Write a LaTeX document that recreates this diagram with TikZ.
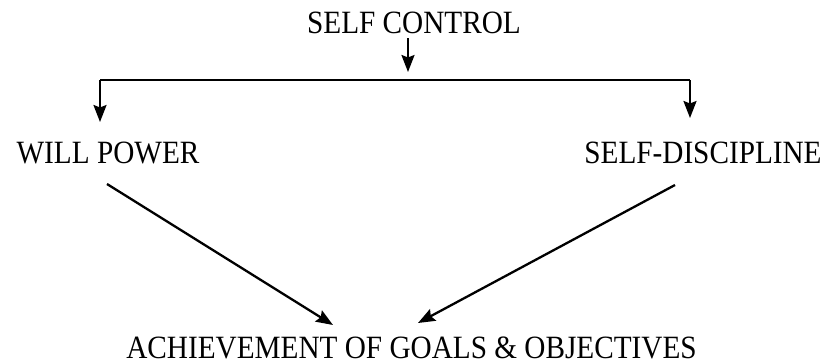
\documentclass[tikz,border=0pt]{standalone}
\usepackage{fontspec}
\setmainfont[FakeStretch=0.9]{Liberation Serif}
\usetikzlibrary{arrows.meta}
\begin{document}
\begin{tikzpicture}[x=1pt,y=-1pt,
  label/.style={inner sep=0pt,anchor=base,font=\fontsize{32.5}{32.5}\selectfont},
  conn/.style={line width=2.3pt,-{Stealth[length=17pt,width=13pt,inset=2.5pt]}},
  plain/.style={line width=2.3pt}]
\useasboundingbox[fill=white] (0,0) rectangle (823,364);

% labels
\node[label] (sc)  at (414,33)  {SELF CONTROL};
\node[label] (wp)  at (108,163) {WILL POWER};
\node[label] (sd)  at (703,163) {SELF-DISCIPLINE};
\node[label] (ach) at (411.5,358) {ACHIEVEMENT OF GOALS \& OBJECTIVES};

% branching points
\coordinate (top)   at (408,38);
\coordinate (stop)  at (408,72);
\coordinate (lbend) at (100,80);
\coordinate (rbend) at (690,80);
\coordinate (ltip)  at (100,122);
\coordinate (rtip)  at (690,118);

\draw[conn] (top) -- (stop);
\draw[plain] (lbend) -- (rbend);
\draw[conn] (lbend) -- (ltip);
\draw[conn] (rbend) -- (rtip);

% converging arrows
\coordinate (wpfoot) at (107,184);
\coordinate (sdfoot) at (675,185);
\coordinate (achl) at (333,325);
\coordinate (achr) at (418,323);
\draw[conn] (wpfoot) -- (achl);
\draw[conn] (sdfoot) -- (achr);
\end{tikzpicture}
\end{document}
